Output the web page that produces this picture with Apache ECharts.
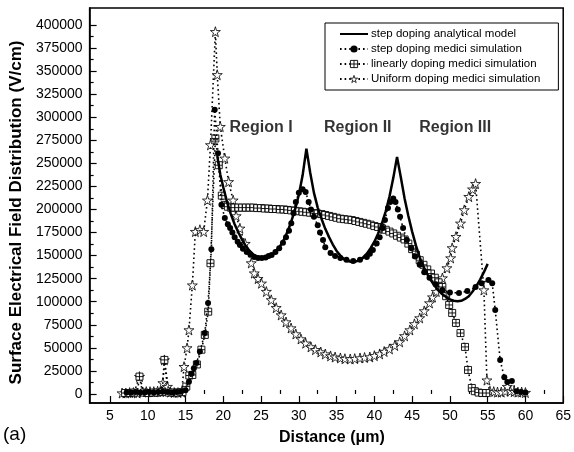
<!DOCTYPE html>
<html>
<head>
<meta charset="utf-8">
<script src="https://cdn.jsdelivr.net/npm/echarts@6/dist/echarts.min.js"></script>
<style>
  html, body { margin: 0; padding: 0; background: #fff; }
  #main { width: 574px; height: 452px; }
</style>
</head>
<body>
<div id="main"></div>
<script>
// axis ticks
const distanceTicks = [5, 10, 15, 20, 25, 30, 35, 40, 45, 50, 55, 60, 65];
const distanceMinor = [7.5, 12.5, 17.5, 22.5, 27.5, 32.5, 37.5, 42.5, 47.5, 52.5, 57.5, 62.5];
const fieldTicks = [0, 25000, 50000, 75000, 100000, 125000, 150000, 175000, 200000,
  225000, 250000, 275000, 300000, 325000, 350000, 375000, 400000];
const fieldMinor = [12500, 37500, 62500, 87500, 112500, 137500, 162500, 187500, 212500,
  237500, 262500, 287500, 312500, 337500, 362500, 387500];

// step doping analytical model
const analyticX = [19.2, 19.6, 20, 20.5, 21, 21.5, 22, 22.5, 23, 23.5, 24, 24.5, 25, 25.5, 26, 26.5,
  27, 27.5, 28, 28.5, 29, 29.5, 30, 30.5, 31, 31.5, 32, 32.5, 33, 33.5, 34, 34.5, 35, 35.5, 36,
  36.5, 37, 37.5, 38, 38.5, 39, 39.5, 40, 40.5, 41, 41.5, 42, 42.5, 43, 43.5, 44, 44.5, 45, 45.5,
  46, 46.5, 47, 47.5, 48, 48.5, 49, 49.5, 50, 50.5, 51, 51.5, 52, 52.5, 53, 53.5, 54, 54.5, 55];
const analyticY = [258000, 238000, 224000, 208000, 195000, 184000, 175000, 167000, 160000, 155000,
  151000, 149000, 148000, 148000, 149000, 151000, 155000, 160000, 167000, 176000, 187000, 200000,
  216000, 237000, 266000, 240000, 218000, 202000, 190000, 179000, 170000, 162000, 155000, 150000,
  146000, 144000, 143000, 143500, 145000, 148000, 152000, 158000, 165000, 174000, 185000, 198000,
  214000, 234000, 257000, 235000, 212000, 193000, 176000, 161000, 148000, 138000, 130000, 123000,
  117000, 112000, 108000, 105000, 102500, 101000, 100500, 101000, 103000, 106000, 111000, 117000,
  124000, 132000, 141000];

// step doping medici simulation
const stepX = [7.2, 7.8, 8.4, 9, 9.6, 10.2, 10.8, 11.4, 12, 12.6, 13.2, 13.8, 14.4, 15, 15.45, 15.8,
  16.1, 16.45, 16.9, 17.55, 17.98, 18.42, 18.86, 19.3, 19.75, 20.2, 20.6, 20.9, 21.2, 21.5, 21.9,
  22.2, 22.6, 23.1, 23.6, 24.1, 24.6, 25.1, 25.6, 26, 26.4, 26.9, 27.4, 27.9, 28.3, 28.7, 29, 29.3,
  29.6, 30, 30.5, 30.9, 31.3, 31.6, 32, 32.5, 32.8, 33.2, 33.5, 34.2, 34.8, 35.5, 36.3, 37.2, 38.1,
  39, 39.4, 39.8, 40.3, 40.7, 41.1, 41.4, 41.8, 42.1, 42.5, 42.8, 43.1, 43.4, 43.8, 44.3, 44.9, 45.4,
  46, 46.6, 47.3, 48.1, 49, 50, 51.2, 52.3, 53.4, 54.2, 55.1, 55.6, 56, 56.65, 57.2, 57.6, 58.2,
  58.8, 59.4, 60];
const stepY = [1500, 1500, 2000, 1500, 1500, 2000, 1500, 2000, 2500, 2000, 1500, 2000, 2500, 4000,
  13300, 22000, 28000, 33600, 45900, 66000, 98600, 157000, 308000, 261000, 205000, 190800, 184000,
  180000, 175000, 170000, 165000, 161500, 157500, 154000, 151000, 148500, 147500, 147400, 148000,
  149500, 150700, 154000, 158000, 164000, 170000, 177000, 185000, 196000, 208000, 218000, 222000,
  219000, 208000, 200000, 192000, 183000, 175000, 167000, 159000, 152800, 149500, 147400, 145500,
  144000, 145500, 148500, 152000, 156000, 163000, 170000, 180000, 188600, 201600, 208000, 212000,
  208000, 200000, 192000, 180000, 167000, 158000, 149000, 140000, 132000, 126000, 119000, 112700,
  110000, 109500, 111500, 116000, 120000, 123600, 120000, 91000, 36900, 18000, 13000, 14000, 3000,
  2000, 1500];

// linearly doping medici simulation
const linearX = [7, 7.6, 8.2, 8.9, 9.5, 10.1, 10.7, 11.3, 11.9, 12.2, 12.8, 13.4, 14, 14.6, 15.1,
  15.5, 15.9, 16.5, 17.1, 17.55, 18, 18.3, 18.95, 19.4, 19.8, 20.2, 20.6, 21, 21.5, 22, 22.5, 23,
  23.5, 24, 24.5, 25, 25.5, 26, 26.5, 27, 27.5, 28, 28.5, 29, 29.5, 30, 30.5, 31, 31.5, 32, 32.5,
  33, 33.5, 34, 34.5, 35, 35.5, 36, 36.5, 37, 37.5, 38, 38.5, 39, 39.5, 40, 40.5, 41, 41.5, 42,
  42.5, 43, 43.5, 44, 44.5, 45, 45.5, 46, 46.5, 47, 47.5, 48, 48.5, 49, 49.5, 49.9, 50.3, 50.8,
  51.4, 52, 52.4, 52.9, 53.3, 53.8, 54.3, 54.8];
const linearY = [1000, 1000, 1500, 18800, 1500, 1000, 1500, 1500, 2000, 36900, 1500, 1500, 1500,
  2000, 8000, 20000, 20600, 32000, 48000, 64000, 89200, 141700, 277000, 248000, 215000, 205000,
  203000, 202000, 202000, 202000, 202000, 202000, 202000, 202000, 201500, 201500, 201000, 201000,
  200500, 200500, 200000, 200000, 199500, 199000, 198500, 198000, 197500, 197000, 196500, 196000,
  195500, 195000, 194000, 193000, 192000, 191000, 190000, 189500, 189000, 188500, 187500, 186500,
  185500, 184500, 183500, 182000, 181000, 179500, 178000, 176000, 174000, 171500, 169500, 167500,
  163000, 157000, 151000, 145000, 140000, 135000, 130500, 126000, 121000, 116000, 106000, 96500,
  87800, 77000, 66000, 51000, 26000, 6500, 3000, 1500, 1000, 1000];

// uniform doping medici simulation
const uniformX = [6.6, 7.1, 7.6, 8.1, 8.6, 8.9, 9.3, 9.8, 10.3, 10.8, 11.3, 11.7, 12, 12.2, 12.6, 13,
  13.5, 14, 14.5, 14.8, 15.2, 15.45, 15.9, 16.3, 16.9, 17.4, 17.9, 18.3, 18.95, 19.2, 19.6, 20.2,
  20.7, 21.3, 21.7, 22.2, 22.9, 23.7, 24.1, 24.6, 25.05, 25.7, 26.35, 27, 27.66, 28.3, 28.97, 29.6,
  30.28, 30.9, 31.6, 32.2, 32.9, 33.5, 34.2, 34.8, 35.5, 36.1, 36.8, 37.4, 38.1, 38.7, 39.4, 40,
  40.7, 41.3, 42, 42.7, 43.35, 44, 44.7, 45.3, 46, 46.6, 47.3, 47.7, 48.2, 48.6, 49, 49.6, 50.1,
  50.3, 50.8, 51.4, 51.9, 52.5, 53, 53.4, 54.5, 54.9, 55.3, 55.8, 56.3, 56.8, 57.3, 57.6, 58, 58.5,
  59, 59.5, 60];
const uniformY = [1000, 1000, 1500, 1500, 1000, 18800, 2000, 2500, 2500, 2500, 3000, 2500, 12000,
  36900, 8000, 2000, 1500, 1500, 2000, 29600, 49900, 69400, 118000, 176000, 178000, 176000, 210000,
  270000, 392700, 346000, 289800, 255500, 230000, 210000, 193000, 179600, 163000, 142000, 131000,
  125000, 120000, 111000, 102000, 93500, 85600, 78000, 71500, 65000, 59600, 55000, 51000, 48000,
  45500, 43300, 41200, 40000, 39000, 38200, 37900, 38300, 39000, 39500, 40100, 41500, 43400, 46000,
  48800, 52500, 56400, 63000, 69400, 76000, 82400, 90000, 98600, 105000, 111000, 118000, 125700,
  136600, 147400, 158300, 170500, 185000, 199500, 213900, 222000, 228000, 112700, 15000, 3000,
  2500, 2000, 2000, 3000, 8000, 3000, 2500, 2000, 2000, 1500];

// region annotations
const regionNames = ['Region I', 'Region II', 'Region III'];
const regionX = [25.0, 37.8, 50.7];
const regionY = [289000, 289000, 289000];

const seriesNames = ['step doping analytical model', 'step doping medici simulation',
  'linearly doping medici simulation', 'Uniform doping medici simulation'];

const zip = (xs, ys) => xs.map((x, i) => [x, ys[i]]);

const FONT = 'Liberation Sans, Arial, Helvetica, sans-serif';
const STAR = 'path://M50,0 L61,35 L98,35 L68,57 L79,91 L50,70 L21,91 L32,57 L2,35 L39,35 Z';
const GRIDSQ = 'path://M0,0 L10,0 L10,10 L0,10 Z M0,5 L10,5 M5,0 L5,10';
const dotted = { color: '#000', width: 1.6, type: [1.6, 3] };
const starStyle = { color: '#fff', borderColor: '#000', borderWidth: 0.8 };
const squareStyle = { color: '#fff', borderColor: '#000', borderWidth: 0.9 };
const plain = (v) => String(v);

const myChart = echarts.init(document.getElementById('main'), null, { renderer: 'canvas' });

let option = {
  animation: false,
  backgroundColor: '#fff',
  textStyle: { fontFamily: FONT },
  grid: {
    left: 86, right: 9, top: 8, bottom: 49,
    show: true, borderColor: '#000', borderWidth: 1.5, backgroundColor: 'transparent'
  },
  legend: {
    orient: 'vertical',
    left: 325, top: 23,
    padding: [5, 18, 5, 14],
    itemGap: 3,
    itemWidth: 28, itemHeight: 9,
    borderColor: '#000', borderWidth: 1,
    backgroundColor: '#fff',
    selectedMode: false,
    data: [
      { name: seriesNames[0], itemStyle: { opacity: 0 } },
      { name: seriesNames[1] },
      { name: seriesNames[2], itemStyle: squareStyle },
      { name: seriesNames[3], itemStyle: starStyle }
    ],
    textStyle: { fontFamily: FONT, fontSize: 11.5, color: '#000', padding: [0, 0, 0, -2] }
  },
  xAxis: [
    {
      type: 'value', min: 2.3, max: 65,
      name: 'Distance (\u03bcm)', nameLocation: 'middle', nameGap: 27,
      nameTextStyle: { fontFamily: FONT, fontSize: 16, fontWeight: 'bold', color: '#000', padding: [0, 0, 0, 11] },
      axisLine: { show: true, onZero: false, lineStyle: { color: '#000', width: 1.5 } },
      axisTick: { show: true, inside: true, length: 7, customValues: distanceTicks, lineStyle: { color: '#000', width: 1.2 } },
      axisLabel: { customValues: distanceTicks, margin: 6, fontSize: 14, color: '#000', fontFamily: FONT, formatter: plain },
      splitLine: { show: false }
    },
    {
      type: 'value', min: 2.3, max: 65, position: 'bottom',
      axisLine: { show: false },
      axisTick: { show: true, inside: true, length: 4, customValues: distanceMinor, lineStyle: { color: '#000', width: 1.2 } },
      axisLabel: { show: false },
      splitLine: { show: false }
    }
  ],
  yAxis: [
    {
      type: 'value', min: -9800, max: 418400,
      name: 'Surface Electrical Field Distribution (V/cm)', nameLocation: 'middle', nameGap: 60,
      nameTextStyle: { fontFamily: FONT, fontSize: 17, fontWeight: 'bold', color: '#000', padding: [0, 14, 0, 0] },
      axisLine: { show: true, onZero: false, lineStyle: { color: '#000', width: 1.5 } },
      axisTick: { show: true, inside: true, length: 7, customValues: fieldTicks, lineStyle: { color: '#000', width: 1.2 } },
      axisLabel: { customValues: fieldTicks, margin: 7, fontSize: 14, color: '#000', fontFamily: FONT, formatter: plain },
      splitLine: { show: false }
    },
    {
      type: 'value', min: -9800, max: 418400, position: 'left',
      axisLine: { show: false },
      axisTick: { show: true, inside: true, length: 4, customValues: fieldMinor, lineStyle: { color: '#000', width: 1.2 } },
      axisLabel: { show: false },
      splitLine: { show: false }
    }
  ],
  graphic: [
    { type: 'text', left: 3, top: 425, style: { text: '(a)', font: '19px ' + FONT, fill: '#000' } }
  ],
  series: [
    {
      name: seriesNames[3], type: 'line', data: zip(uniformX, uniformY),
      symbol: STAR, symbolSize: 10, showSymbol: true,
      itemStyle: starStyle,
      lineStyle: dotted, z: 2
    },
    {
      name: seriesNames[2], type: 'line', data: zip(linearX, linearY),
      symbol: GRIDSQ, symbolSize: 7, showSymbol: true,
      itemStyle: squareStyle,
      lineStyle: dotted, z: 3
    },
    {
      name: seriesNames[1], type: 'line', data: zip(stepX, stepY),
      symbol: 'circle', symbolSize: 6, showSymbol: true,
      itemStyle: { color: '#000' },
      lineStyle: dotted, z: 4
    },
    {
      name: seriesNames[0], type: 'line', data: zip(analyticX, analyticY),
      symbol: 'none', showSymbol: false,
      itemStyle: { color: '#000' },
      lineStyle: { color: '#000', width: 2.5 }, z: 5
    },
    {
      name: 'regions', type: 'scatter', symbolSize: 0,
      data: regionX.map((x, i) => [x, regionY[i], regionNames[i]]),
      label: {
        show: true, position: 'inside', formatter: (p) => p.data[2],
        fontFamily: FONT, fontSize: 16, fontWeight: 'bold', color: '#000'
      },
      z: 6
    }
  ]
};

myChart.setOption(option);
</script>
</body>
</html>
